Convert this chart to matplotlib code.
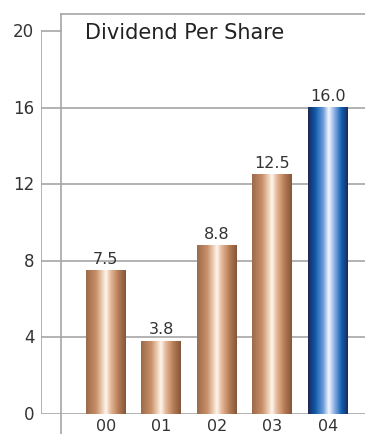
import matplotlib
matplotlib.use("Agg")
import matplotlib.pyplot as plt
from matplotlib.colors import LinearSegmentedColormap
from matplotlib.lines import Line2D
import numpy as np

plt.rcParams["font.family"] = ["DejaVu Sans"]

years = ["00", "01", "02", "03", "04"]
dividend = [7.5, 3.8, 8.8, 12.5, 16.0]
yticks = [0, 4, 8, 12, 16, 20]

copper = LinearSegmentedColormap.from_list(
    "copper_bar",
    [(0.0, "#9c6a48"), (0.25, "#c88e68"), (0.42, "#f0d4bc"), (0.5, "#fdf6ef"),
     (0.62, "#e6b898"), (0.82, "#b47a52"), (1.0, "#84553a")])
blue = LinearSegmentedColormap.from_list(
    "blue_bar",
    [(0.0, "#1c2858"), (0.18, "#0e5aa8"), (0.38, "#6c9ad8"), (0.52, "#f4f8ff"),
     (0.66, "#8fb0e4"), (0.84, "#1060b0"), (1.0, "#1a2a5c")])

W, H = 365, 435
fig = plt.figure(figsize=(W / 100, H / 100), dpi=100)

# axes: left edge at x=41px, value 0 at y=415px, top at y=15px
ax = fig.add_axes([41 / W, 20 / H, 324 / W, 400 / H])
for s in ax.spines.values():
    s.set_visible(False)
ax.set_xticks([])
ax.set_yticks([])

line_c = "#a6a6a6"
for v in yticks[:-1]:
    ax.axhline(v, color=line_c, lw=1.2, zorder=1)
ax.plot([0, 20 / 324], [20, 20], color=line_c, lw=1.2,
        transform=ax.get_yaxis_transform(), zorder=1)
ax.plot([0, 0], [0, 20], color=line_c, lw=1.2,
        transform=ax.get_yaxis_transform(), zorder=1)

# inner frame line at x=61px running full height, plus top edge
fig.add_artist(Line2D([61 / W, 61 / W], [0, 420 / H], color=line_c, lw=1.2))
fig.add_artist(Line2D([61 / W, 1], [420 / H, 420 / H], color=line_c, lw=1.2))

for v in yticks:
    ax.text(-1.17 - 0.12, v, str(v), ha="right", va="center", fontsize=12,
            color="#333333", clip_on=False)

grad = np.linspace(0, 1, 256).reshape(1, -1)
width = 0.72
for i, (yr, val) in enumerate(zip(years, dividend)):
    cmap = blue if i == len(years) - 1 else copper
    x0, x1 = i - width / 2, i + width / 2
    ax.imshow(grad, cmap=cmap, aspect="auto", extent=(x0, x1, 0, val),
              zorder=2, interpolation="bilinear")
    ax.text(i, val + 0.25, f"{val:.1f}", ha="center", va="bottom",
            fontsize=11.5, color="#333333", zorder=3)
    ax.text(i, -0.2, yr, ha="center", va="top", fontsize=11.5,
            color="#333333", clip_on=False)

ax.set_xlim(-1.17, 4.67)
ax.set_ylim(0, 20.9)

fig.text(85 / W, 1 - 33 / H, "Dividend Per Share", ha="left", va="center",
         fontsize=15, color="#222222")

fig.savefig("out.png", dpi=100)
